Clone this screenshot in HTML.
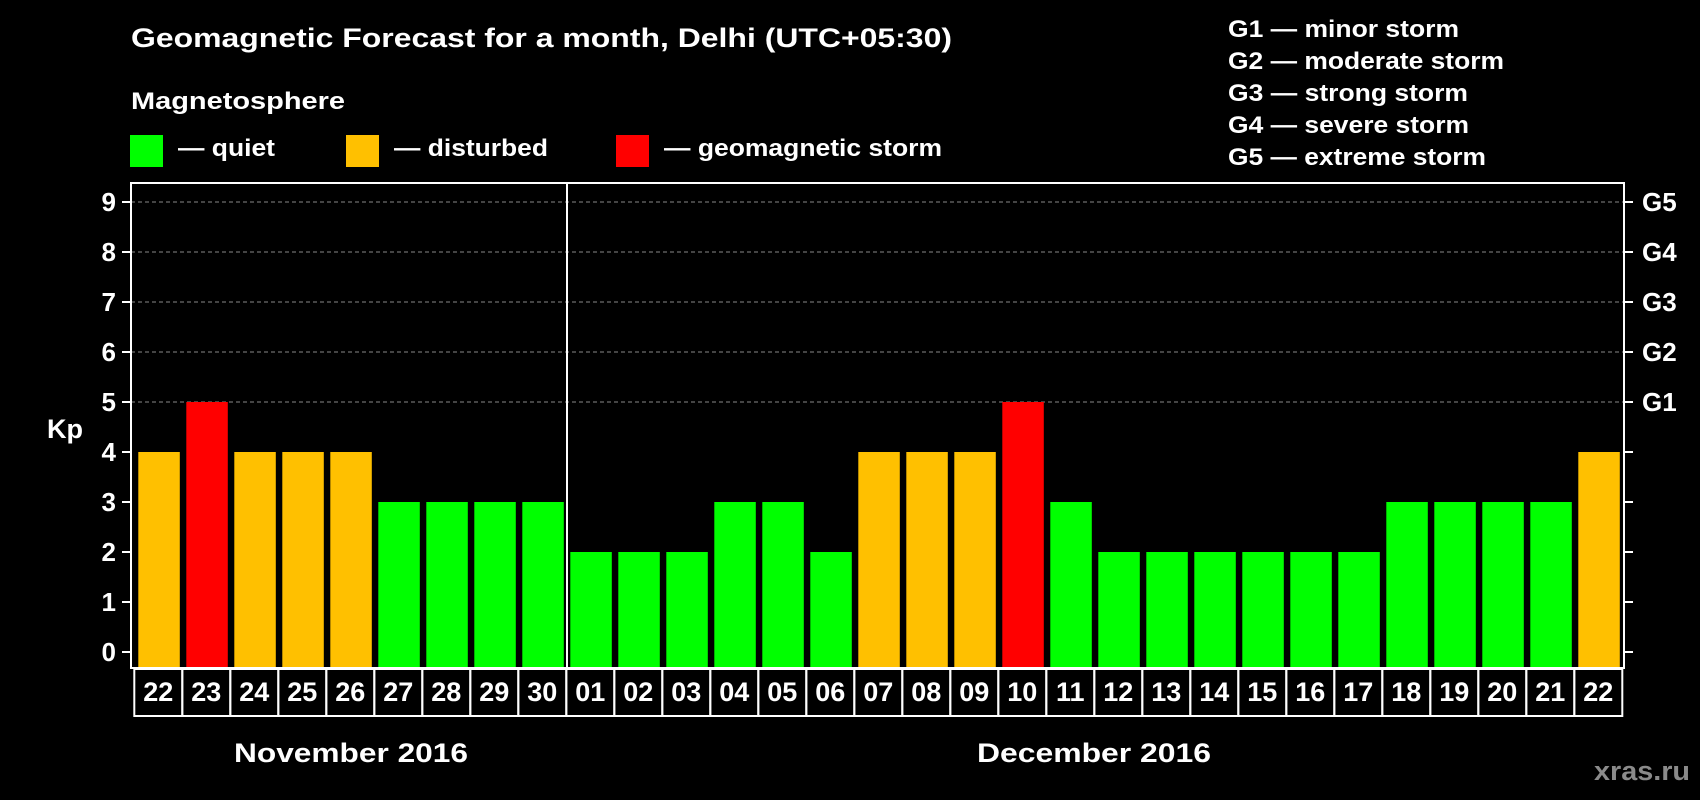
<!DOCTYPE html>
<html><head><meta charset="utf-8"><style>
html,body{margin:0;padding:0;background:#000;}
svg{display:block;font-family:"Liberation Sans",Arial,sans-serif;font-weight:bold;}
</style></head><body>
<svg id="chart" width="1700" height="800" viewBox="0 0 1700 800" xmlns="http://www.w3.org/2000/svg">
<rect x="0" y="0" width="1700" height="800" fill="#000"/>
<text x="131" y="47" font-size="27" fill="#fff" textLength="821" lengthAdjust="spacingAndGlyphs">Geomagnetic Forecast for a month, Delhi (UTC+05:30)</text>
<text x="131" y="109" font-size="24" fill="#fff" textLength="214" lengthAdjust="spacingAndGlyphs">Magnetosphere</text>
<g>
<rect x="130" y="135" width="33" height="32" fill="#00ff00"/>
<text x="178" y="156" font-size="24" fill="#fff" textLength="97" lengthAdjust="spacingAndGlyphs">— quiet</text>
</g>
<g>
<rect x="346" y="135" width="33" height="32" fill="#ffc000"/>
<text x="394" y="156" font-size="24" fill="#fff" textLength="154" lengthAdjust="spacingAndGlyphs">— disturbed</text>
</g>
<g>
<rect x="616" y="135" width="33" height="32" fill="#ff0000"/>
<text x="664" y="156" font-size="24" fill="#fff" textLength="278" lengthAdjust="spacingAndGlyphs">— geomagnetic storm</text>
</g>
<g font-size="24" fill="#fff">
<text x="1228" y="37" textLength="231" lengthAdjust="spacingAndGlyphs">G1 — minor storm</text>
<text x="1228" y="69" textLength="276" lengthAdjust="spacingAndGlyphs">G2 — moderate storm</text>
<text x="1228" y="101" textLength="240" lengthAdjust="spacingAndGlyphs">G3 — strong storm</text>
<text x="1228" y="133" textLength="241" lengthAdjust="spacingAndGlyphs">G4 — severe storm</text>
<text x="1228" y="165" textLength="258" lengthAdjust="spacingAndGlyphs">G5 — extreme storm</text>
</g>
<g id="plot"></g>
<text x="65" y="438" font-size="27" fill="#fff" text-anchor="middle">Kp</text>
<text x="351" y="762" font-size="27" fill="#fff" text-anchor="middle" textLength="234" lengthAdjust="spacingAndGlyphs">November 2016</text>
<text x="1094" y="762" font-size="27" fill="#fff" text-anchor="middle" textLength="234" lengthAdjust="spacingAndGlyphs">December 2016</text>
<text x="1690" y="780" font-size="27" fill="#8a8a8a" text-anchor="end" textLength="96" lengthAdjust="spacingAndGlyphs">xras.ru</text>
</svg>
<script>
const days = ["22","23","24","25","26","27","28","29","30","01","02","03","04","05","06","07","08","09","10","11","12","13","14","15","16","17","18","19","20","21","22"];
const kpValues = [4,5,4,4,4,3,3,3,3,2,2,2,3,3,2,4,4,4,5,3,2,2,2,2,2,2,3,3,3,3,4];
const yTicks = [0,1,2,3,4,5,6,7,8,9];
const gLabels = ["","","","","","G1","G2","G3","G4","G5"];

const NS = "http://www.w3.org/2000/svg";
const plot = document.getElementById("plot");
const frameL = 131, frameR = 1624, frameT = 183, frameB = 668;
const cellX0 = 134.3, cellW = 48, cellT = 669, cellB = 716;
const y = v => 652 - 50 * v;
const xCell = i => cellX0 + i * cellW;
function mk(tag, attrs, parent) {
  const e = document.createElementNS(NS, tag);
  for (const k in attrs) e.setAttribute(k, attrs[k]);
  (parent || plot).appendChild(e);
  return e;
}
function color(v) { return v >= 5 ? "#ff0000" : (v >= 4 ? "#ffc000" : "#00ff00"); }

yTicks.forEach((t, i) => {
  if (t >= 5) {
    const g = mk("line", {x1: frameL, x2: frameR, y1: y(t), y2: y(t), stroke: "#888", "stroke-width": 1, "stroke-dasharray": "4,3"});
    
    
  }
  const tl = mk("line", {x1: 122, x2: frameL, y1: y(t), y2: y(t), stroke: "#fff", "stroke-width": 2});
  
  
  const tr = mk("line", {x1: frameR, x2: frameR + 9, y1: y(t), y2: y(t), stroke: "#fff", "stroke-width": 2});
  
  
  const lab = mk("text", {x: 116, y: y(t) + 9, "font-size": 26, fill: "#fff", "text-anchor": "end"});
  lab.textContent = t;
  
  
  if (gLabels[i]) {
    const gl = mk("text", {x: 1642, y: y(t) + 9, "font-size": 26, fill: "#fff"});
    gl.textContent = gLabels[i];
    
    
  }
});

kpValues.forEach((v, i) => {
  const b = mk("rect", {x: xCell(i) + 4, y: y(v), width: 41.5, height: frameB - y(v), fill: color(v)});
  
  
  const c = mk("rect", {x: xCell(i), y: cellT, width: cellW, height: cellB - cellT, fill: "none", stroke: "#fff", "stroke-width": 2});
  
  
  const t = mk("text", {x: xCell(i) + cellW / 2, y: 701, "font-size": 27, fill: "#fff", "text-anchor": "middle"});
  t.textContent = days[i];
  
  
});

const fr = mk("rect", {x: frameL, y: frameT, width: frameR - frameL, height: frameB - frameT, fill: "none", stroke: "#fff", "stroke-width": 2});


const dv = mk("line", {x1: 567, x2: 567, y1: frameT, y2: frameB, stroke: "#fff", "stroke-width": 2});


</script>
</body></html>
